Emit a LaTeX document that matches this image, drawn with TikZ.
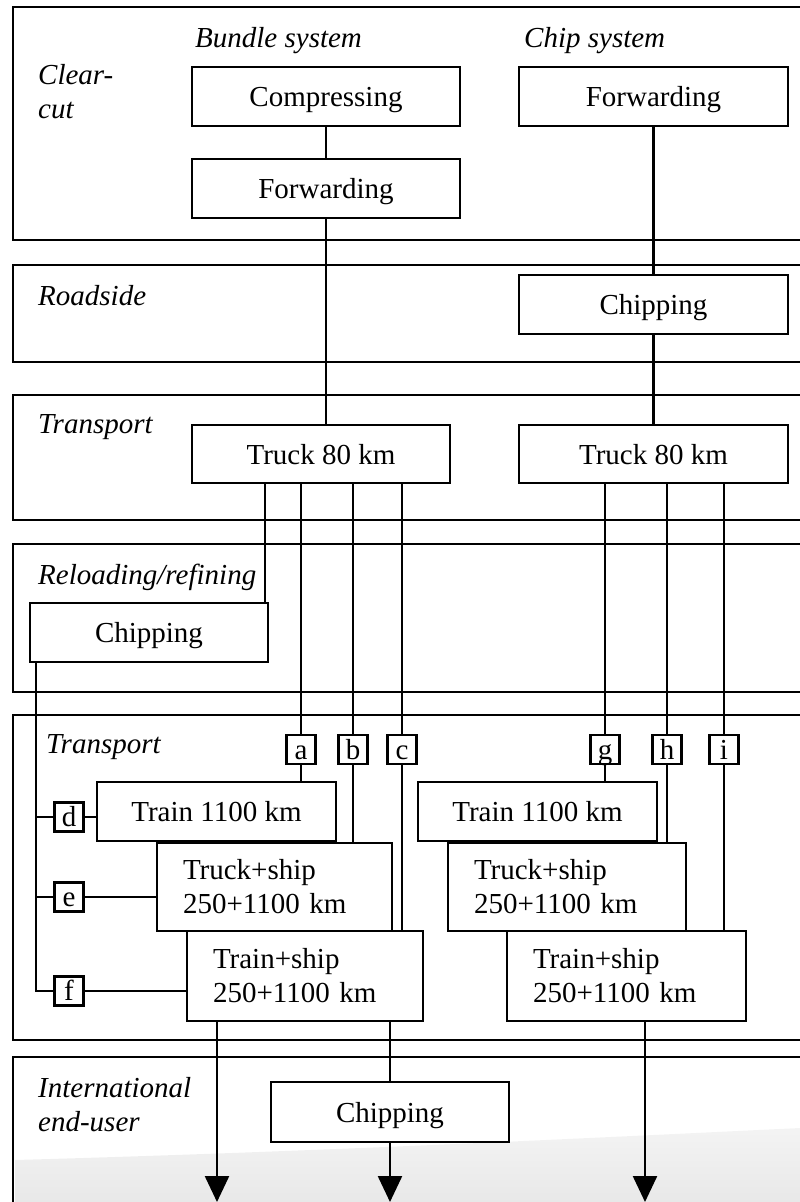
\documentclass[tikz,border=0pt]{standalone}
\usepackage{fontspec}
\setmainfont{Liberation Serif}
\usetikzlibrary{arrows.meta,positioning,calc}
\newcommand{\dfont}{\fontsize{29}{34}\selectfont}
\tikzset{
  % paneler
  panel/.style={draw=black,line width=2.4pt},
  plabel/.style={font=\dfont\itshape,inner sep=0pt},
  % boxar
  blkbase/.style={draw=black,fill=white,line width=2.4pt,inner sep=0pt,font=\dfont},
  blk/.style={blkbase,text height=21pt,text depth=1pt},
  blk2/.style={blkbase,align=left,inner xsep=26pt,text width=#1},
  tagbox/.style={draw=black,fill=white,line width=2.4pt,inner sep=0pt,
                 minimum size=29pt,text height=23pt,text depth=4pt,font=\dfont},
  % linjer
  ln/.style={draw=black,line width=2.4pt},
  flow/.style={ln,-{Triangle[length=26pt,width=24pt]}},
}
\begin{document}
\begin{tikzpicture}[x=1pt,y=-1pt]
\useasboundingbox (0,0) rectangle (800,1202);
  % skuggan nere
  \shade[top color=gray!9,bottom color=gray!18] (15,1160) .. controls (300,1152) and (550,1140) .. (800,1128)
    -- (800,1202) -- (15,1202) -- cycle;
  % paneler
  \draw[panel] (800,7) -| (13,240) -- (800,240);
  \draw[panel] (800,265) -| (13,362) -- (800,362);
  \draw[panel] (800,395) -| (13,520) -- (800,520);
  \draw[panel] (800,544) -| (13,692) -- (800,692);
  \draw[panel] (800,715) -| (13,1040) -- (800,1040);
  \draw[panel] (800,1057) -| (13,1202);
  \node[plabel,anchor=north west,align=left] (lclear) at (38,64) {Clear-\\cut};
  \node[plabel,anchor=base west] (lbundle) at (195,47) {Bundle system};
  \node[plabel,anchor=base west] (lchip) at (524,47) {Chip system};
  \node[plabel,anchor=base west] (lroad) at (38,305) {Roadside};
  \node[plabel,anchor=base west] (ltrans) at (38,433) {Transport};
  \node[plabel,anchor=base west] (lreload) at (38,584) {Reloading/refining};
  \node[plabel,anchor=base west] (ltranss) at (46,753) {Transport};
  \node[plabel,anchor=north west,align=left] (lend) at (38,1077) {International\\end-user};
  % buntsystem
  \node[blk,minimum width=268pt,minimum height=59pt] (comp) at (326,96.5) {Compressing};
  \node[blk,minimum width=268pt,minimum height=59pt] (fwdb) at (326,188.5) {Forwarding};
  \node[blk,minimum width=258pt,minimum height=58pt] (truckb) at (321,454) {Truck 80 km};
  \node[blk,minimum width=238pt,minimum height=59pt] (chipl) at (149,632.5) {Chipping};
  % flissystem
  \node[blk,minimum width=269pt,minimum height=59pt] (fwdc) at (653.5,96.5) {Forwarding};
  \node[blk,minimum width=269pt,minimum height=59pt] (chipr) at (653.5,304.5) {Chipping};
  \node[blk,minimum width=269pt,minimum height=58pt] (truckc) at (653.5,454) {Truck 80 km};
  % transporter
  \node[tagbox] (a) at (301,749.5) {a};
  \node[tagbox] (b) at (353,749.5) {b};
  \node[tagbox] (c) at (402,749.5) {c};
  \node[tagbox] (g) at (605,749.5) {g};
  \node[tagbox] (h) at (667,749.5) {h};
  \node[tagbox] (i) at (724,749.5) {i};
  \node[tagbox] (d) at (69,817) {d};
  \node[tagbox] (e) at (69,897) {e};
  \node[tagbox] (f) at (69,991) {f};
  \node[blk,minimum width=239pt,minimum height=59pt] (trainb) at (216.5,811.5) {Train 1100 km};
  \node[blk2=183pt,minimum height=88pt] (tshb) at (274.5,887) {Truck+ship\\250+1100 km};
  \node[blk2=184pt,minimum height=90pt] (rshb) at (305,976) {Train+ship\\250+1100 km};
  \node[blk,minimum width=239pt,minimum height=59pt] (trainc) at (537.5,811.5) {Train 1100 km};
  \node[blk2=186pt,minimum height=88pt] (tshc) at (567,887) {Truck+ship\\250+1100 km};
  \node[blk2=187pt,minimum height=90pt] (rshc) at (626.5,976) {Train+ship\\250+1100 km};
  \node[blk,minimum width=238pt,minimum height=60pt] (chipe) at (390,1112) {Chipping};
  % kopplingar
  \draw[ln] (comp) -- (fwdb);
  \draw[ln] (fwdb.south) -- (fwdb.south |- truckb.north);
  \draw[ln] (fwdc) -- (chipr);
  \draw[ln] (chipr) -- (truckc);
  \draw[ln] ([xshift=-4pt]chipl.north east) -- ([xshift=-4pt]chipl.north east |- truckb.south);
  \draw[ln] (a.north) -- (a.north |- truckb.south);
  \draw[ln] (a.south) -- (a.south |- trainb.north);
  \draw[ln] (b.north) -- (b.north |- truckb.south);
  \draw[ln] (b.south) -- (b.south |- tshb.north);
  \draw[ln] (c.north) -- (c.north |- truckb.south);
  \draw[ln] (c.south) -- (c.south |- rshb.north);
  \draw[ln] (g.north) -- (g.north |- truckc.south);
  \draw[ln] (g.south) -- (g.south |- trainc.north);
  \draw[ln] (h.north) -- (h.north |- truckc.south);
  \draw[ln] (h.south) -- (h.south |- tshc.north);
  \draw[ln] (i.north) -- (i.north |- truckc.south);
  \draw[ln] (i.south) -- (i.south |- rshc.north);
  \draw[ln] ([xshift=7pt]chipl.south west) |- (f.west);
  \draw[ln] ([xshift=7pt]chipl.south west |- d.west) -- (d.west);
  \draw[ln] ([xshift=7pt]chipl.south west |- e.west) -- (e.west);
  \draw[ln] (d.east) -- (d.east -| trainb.west);
  \draw[ln] (e.east) -- (e.east -| tshb.west);
  \draw[ln] (f.east) -- (f.east -| rshb.west);
  % till slutanvändare
  \coordinate (endl) at (217,1202);
  \coordinate (endm) at (390,1202);
  \coordinate (endr) at (645,1202);
  \draw[flow] (endl |- rshb.south) -- (endl);
  \draw[ln] (chipe.north |- rshb.south) -- (chipe.north);
  \draw[flow] (chipe.south) -- (endm);
  \draw[flow] (endr |- rshc.south) -- (endr);
\end{tikzpicture}
\end{document}
